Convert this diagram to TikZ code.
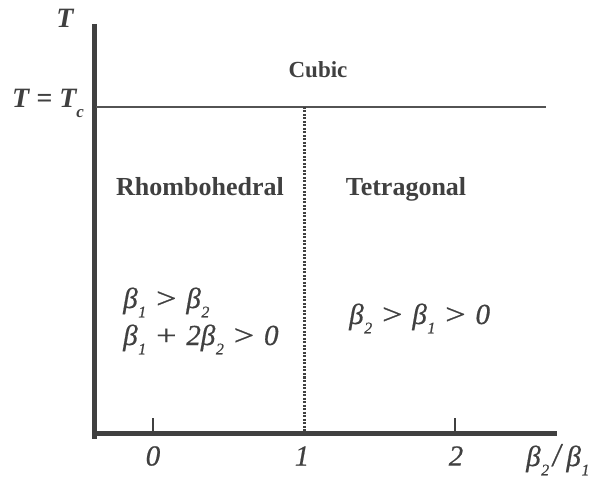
\documentclass[tikz,border=0pt]{standalone}
\usepackage{fontspec}
\setmainfont{Liberation Serif}
\definecolor{ink}{RGB}{64,64,64}
\newcommand{\bsub}[1]{\textit{β}\kern0.02em\raisebox{-0.32em}{\fontsize{16}{16}\selectfont\addfontfeature{FakeBold=0.6}\textit{#1}}}
\newcommand{\opr}[1]{\hspace{0.34em}\scalebox{1.25}[1]{#1}\hspace{0.34em}}
\begin{document}
\begin{tikzpicture}[x=1pt,y=-1pt,
  lbl/.style={text=ink,font=\fontsize{26}{28}\selectfont\bfseries,inner sep=0pt},
  mth/.style={text=ink,font=\fontsize{29}{30}\selectfont\addfontfeature{FakeBold=0.6},inner sep=0pt},
  bmth/.style={text=ink,font=\fontsize{28}{28}\selectfont\bfseries\itshape,inner sep=0pt},
  axis/.style={draw=ink,line width=5pt},
  tick/.style={draw=ink,line width=2.5pt},
  tcl/.style={draw=ink!90,line width=2pt}]
\useasboundingbox (0,0) rectangle (608,478);
\coordinate (o) at (94,433);
\coordinate (ytop) at (94,24);
\coordinate (ybot) at (94,439);
\coordinate (xend) at (557,433);
\coordinate (tcl) at (96,107);
\coordinate (tcr) at (546,107);
\coordinate (d1) at (304,107);
\coordinate (d1b) at (304,431);
\coordinate (t0) at (153,418);
\coordinate (t0b) at (153,432);
\coordinate (t2) at (455,418);
\coordinate (t2b) at (455,432);
\draw[axis] (ytop) -- (ybot);
\draw[axis] (o) -- (xend);
\draw[tcl] (tcl) -- (tcr);
\draw[draw=ink,line width=3pt,dash pattern=on 2pt off 1.5pt] (d1) -- (d1b);
\draw[tick] (t0) -- (t0b);
\draw[tick] (t2) -- (t2b);
\node[bmth] (T) at (65,18) {T};
\node[bmth,anchor=base west] (Tc) at (12,108) {T\hspace{0.25em}=\hspace{0.25em}T\raisebox{-0.35em}{\fontsize{17}{17}\selectfont c}};
\node[lbl,font=\fontsize{23}{24}\selectfont\bfseries,anchor=base] (cubic) at (318,78) {Cubic};
\node[lbl,anchor=base] (rh) at (200,196) {Rhombohedral};
\node[lbl,anchor=base] (te) at (406,196) {Tetragonal};
\node[mth,anchor=base west] (c1) at (123,308) {\bsub{1}\opr{>}\bsub{2}};
\node[mth,anchor=base west] (c2) at (123,345) {\bsub{1}\opr{+}\textit{2}\bsub{2}\opr{>}\textit{0}};
\node[mth,anchor=base west] (c3) at (349,324) {\bsub{2}\opr{>}\bsub{1}\opr{>}\textit{0}};
\node[mth] (l0) at (153,456) {\textit{0}};
\node[mth] (l1) at (302,456) {\textit{1}};
\node[mth] (l2) at (456,456) {\textit{2}};
\node[mth,anchor=base west] (ax) at (526,466) {\bsub{2}\hspace{0.12em}\scalebox{1}[1.15]{\textit{/}}\hspace{0.12em}\bsub{1}};
\end{tikzpicture}
\end{document}
